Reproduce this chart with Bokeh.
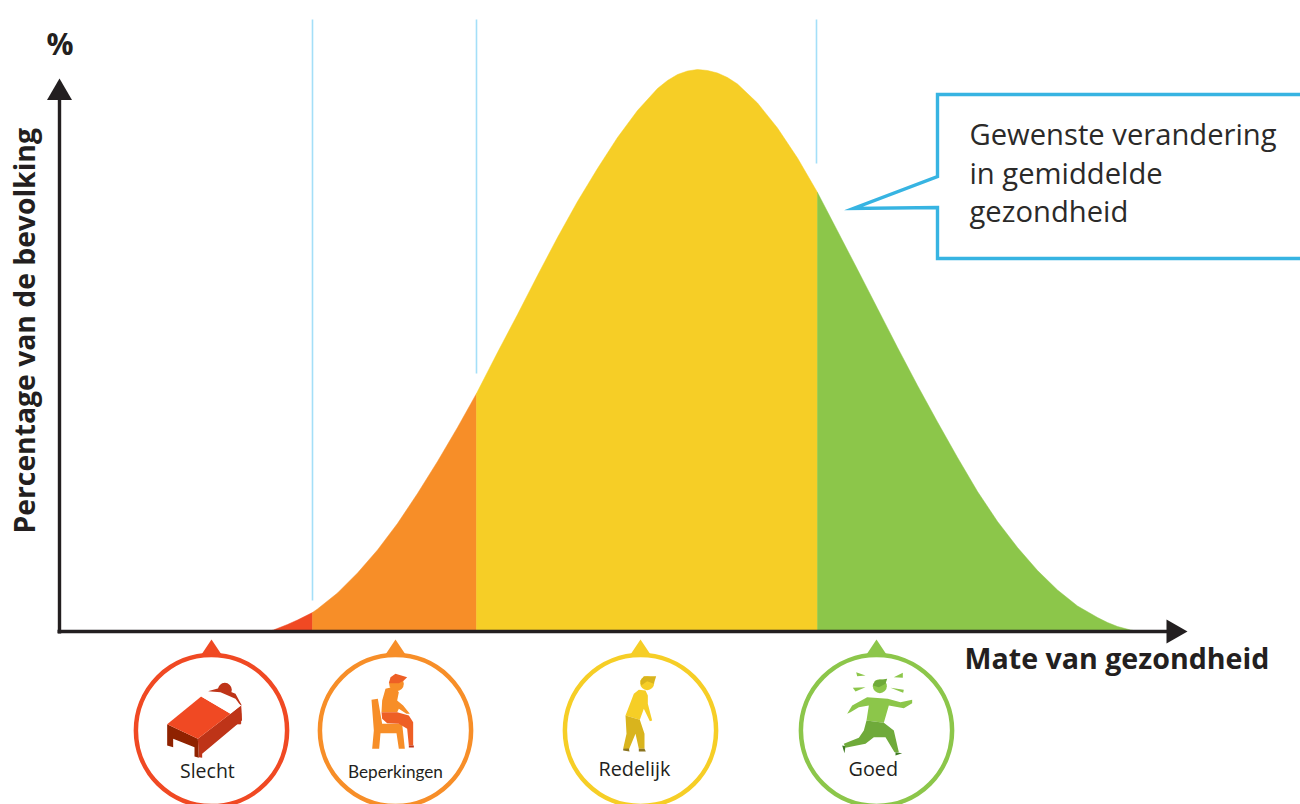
from bokeh.plotting import figure
from bokeh.embed import file_html
from bokeh.resources import INLINE
from bokeh.models import Range1d
from bokeh.core.properties import value
import math

# ---- data (arbitrary health / population units)
health = [208,214,228,238,253,258,278,298,318,338,358,378,398,417,438,458,478,498,518,538,558,578,598,608,618,628,638,648,658,668,678,698,718,738,758,778,798,818,838,858,878,898,918,938,958,978,998,1018,1038,1048,1058,1071,1080]
population = [0,1.5,7,11.5,19,22.5,38.5,58.5,81.5,108,138,170,204,238,279,317,356,394,430,463,494,521,543,551,557,560.5,562,561,558.5,554,547.5,528.5,503.5,473.5,439,400.5,362,323,284,246,209.5,174,140,110,84,61,41.5,25.5,14,9,5,1.5,0]
band_edges = [208, 253, 417, 758, 1080]
band_colors = ["#F04923", "#F78E28", "#F6CE26", "#8CC64A"]
band_labels = ["Slecht", "Beperkingen", "Redelijk", "Goed"]
band_marker_x = [152, 336, 581, 817]
guide_x = [253, 417, 757]
guide_top = [612, 612, 612]
guide_bottom = [31, 258, 468]
callout_lines = ["Gewenste verandering", "in gemiddelde", "gezondheid"]
y_title = "Percentage van de bevolking"
x_title = "Mate van gezondheid"
unit = "%"

INK = "#231F20"
BLUE = "#37B4E2"
GUIDE = "#A4DFF8"
BODY = "Open Sans"

p = figure(width=1300, height=804, toolbar_location=None, output_backend="svg",
           x_range=Range1d(0 - 59, 1300 - 59), y_range=Range1d(631 - 804, 631 - 0),
           min_border=0, outline_line_color=None, background_fill_color="white")
p.grid.visible = False
p.axis.visible = False

# page pixel -> data helpers for decoration
X = lambda v: v - 59
Y = lambda v: 631 - v

def pts(points, ox, oy):
    return ([X(ox + a / 3) for a, _ in points], [Y(oy + b / 3) for _, b in points])

# bands of the curve
for i, col in enumerate(band_colors):
    lo, hi = band_edges[i], band_edges[i + 1]
    xs = [h for h in health if lo <= h <= hi]
    ys = [population[health.index(h)] for h in xs]
    p.patch([lo] + xs + [hi], [0] + ys + [0], fill_color=col, line_color=col, line_width=0.5)

# guide lines
p.segment(guide_x, guide_bottom, guide_x, guide_top, line_color=GUIDE, line_width=1.6)

# axes
p.line([X(59), X(59)], [Y(633), Y(99)], line_color=INK, line_width=3.4)
p.line([X(57), X(1167)], [Y(631), Y(631)], line_color=INK, line_width=3.4)
p.patch([X(59), X(46.5), X(71.5)], [Y(78), Y(99.5), Y(99.5)], fill_color=INK, line_color=None)
p.patch([X(1187), X(1166), X(1166)], [Y(631), Y(619), Y(643)], fill_color=INK, line_color=None)

def label(x, y, s, size, font=BODY, style="normal", color=INK, angle=0.0):
    p.text([X(x)], [Y(y)], text=[s], text_font=value(font), text_font_size=size,
           text_font_style=style, text_color=color, text_baseline="alphabetic",
           text_align="left", angle=angle)

label(46, 43, unit, "30px", style="bold")
label(23, 533, y_title, "28.3px", style="bold", angle=math.pi / 2)
label(964, 657, x_title, "28.6px", style="bold")

# call-out
p.line([X(v) for v in [1300, 937, 937, 853, 937, 937, 1300]],
       [Y(v) for v in [94, 94, 176, 208, 207, 258, 258]],
       line_color=BLUE, line_width=3.4, line_join="miter")
for s, by in zip(callout_lines, [133, 172, 210]):
    label(969, by, s, "29.2px", color="#2B2A29")

# band markers
for mx, col in zip(band_marker_x, band_colors):
    p.circle([mx], [Y(730)], radius=75.6, fill_color="white", line_color=col, line_width=4.5)
    p.patch([mx, mx - 10, mx + 10], [Y(639), Y(654), Y(654)], fill_color=col, line_color=None)

def shape(points, color, ox, oy):
    xs, ys = pts(points, ox, oy)
    p.patch(xs, ys, fill_color=color, line_color=None)

def dot(cx, cy, r, color, ox, oy):
    p.circle([X(ox + cx / 3)], [Y(oy + cy / 3)], radius=r / 3, fill_color=color, line_color=None)

# bed icon
A = (120, 630)
dot(313, 178, 21, "#BE3418", *A)
shape([(262,182),(300,172),(345,190),(364,225),(364,270),(345,262),(345,280),(360,282),(362,262),(364,225)], "#BE3418", *A)
shape([(232,325),(362,225),(364,270),(245,370),(245,382),(235,380)], "#BE3418", *A)
shape([(140,281),(232,325),(235,382),(222,378),(222,350),(158,325),(158,350),(140,345)], "#8F2200", *A)
shape([(140,281),(242,198),(330,250),(232,325)], "#F04923", *A)
shape([(262,182),(300,185),(345,205),(360,225),(330,250),(242,198)], "white", *A)
shape([(345,262),(362,248),(362,280),(345,282)], "#BE3418", *A)

# seated person icon
shape([(753,208),(772,205),(785,280),(845,280),(853,355),(835,355),(828,308),(780,308),(776,355),(755,355),(760,300)], "#F78E28", *A)
shape([(795,175),(822,168),(835,185),(830,210),(848,225),(868,250),(858,250),(835,235),(830,245),(783,245),(785,210)], "#F78E28", *A)
dot(828, 160, 22, "#F78E28", *A)
shape([(805,158),(810,140),(825,130),(860,140),(850,150),(835,158)], "#EE5F25", *A)
shape([(783,245),(830,245),(865,255),(878,275),(878,345),(865,345),(860,295),(835,280),(800,278),(785,265)], "#EE5F25", *A)
shape([(865,345),(880,345),(880,351),(865,351)], "#BE3418", *A)

# stooped person icon
B = (550, 630)
dot(290, 158, 21, "#F6CE26", *B)
shape([(270,150),(280,137),(300,137),(317,137),(310,160),(290,152),(272,165)], "#D9B41D", *B)
shape([(225,255),(250,190),(265,178),(285,180),(292,195),(292,220),(305,270),(298,272),(280,235),(268,268)], "#F6CE26", *B)
shape([(225,255),(268,268),(282,310),(282,355),(265,355),(255,310),(235,358),(218,355),(228,310)], "#D9B41D", *B)
shape([(218,355),(235,354),(237,363),(218,360)], "#8A7420", *B)
shape([(265,355),(282,355),(286,363),(265,363)], "#8A7420", *B)

# running person icon
dot(988, 167, 21, "#8CC64A", *B)
shape([(967,165),(975,150),(1010,145),(1005,160),(985,170)], "#6FAA3A", *B)
for tri in ([(917,125),(945,135),(920,137)], [(1057,127),(1030,140),(1057,142)],
            [(907,172),(945,170),(915,183)], [(1020,172),(1060,178),(1058,187)]):
    shape(tri, "#8CC64A", *B)
shape([(890,250),(905,225),(950,200),(1012,205),(1050,215),(1085,208),(1085,218),(1060,233),(1015,225),(1000,277),(948,270),(955,225),(925,230),(900,245)], "#8CC64A", *B)
shape([(948,270),(1000,277),(1030,300),(1045,365),(1032,365),(1005,320),(970,320),(945,340),(885,352),(880,340),(925,322),(940,300)], "#6FAA3A", *B)
shape([(875,345),(885,347),(882,368)], "#3E7A22", *B)
shape([(1035,365),(1055,368),(1035,375)], "#3E7A22", *B)

# marker captions
label(179.5, 770, band_labels[0], "19.5px")
label(347.5, 771, band_labels[1], "17.2px", font="Lato")
label(598, 767.5, band_labels[2], "19.8px")
label(848, 768, band_labels[3], "19.8px")

open("out.html", "w").write(file_html(p, INLINE))
